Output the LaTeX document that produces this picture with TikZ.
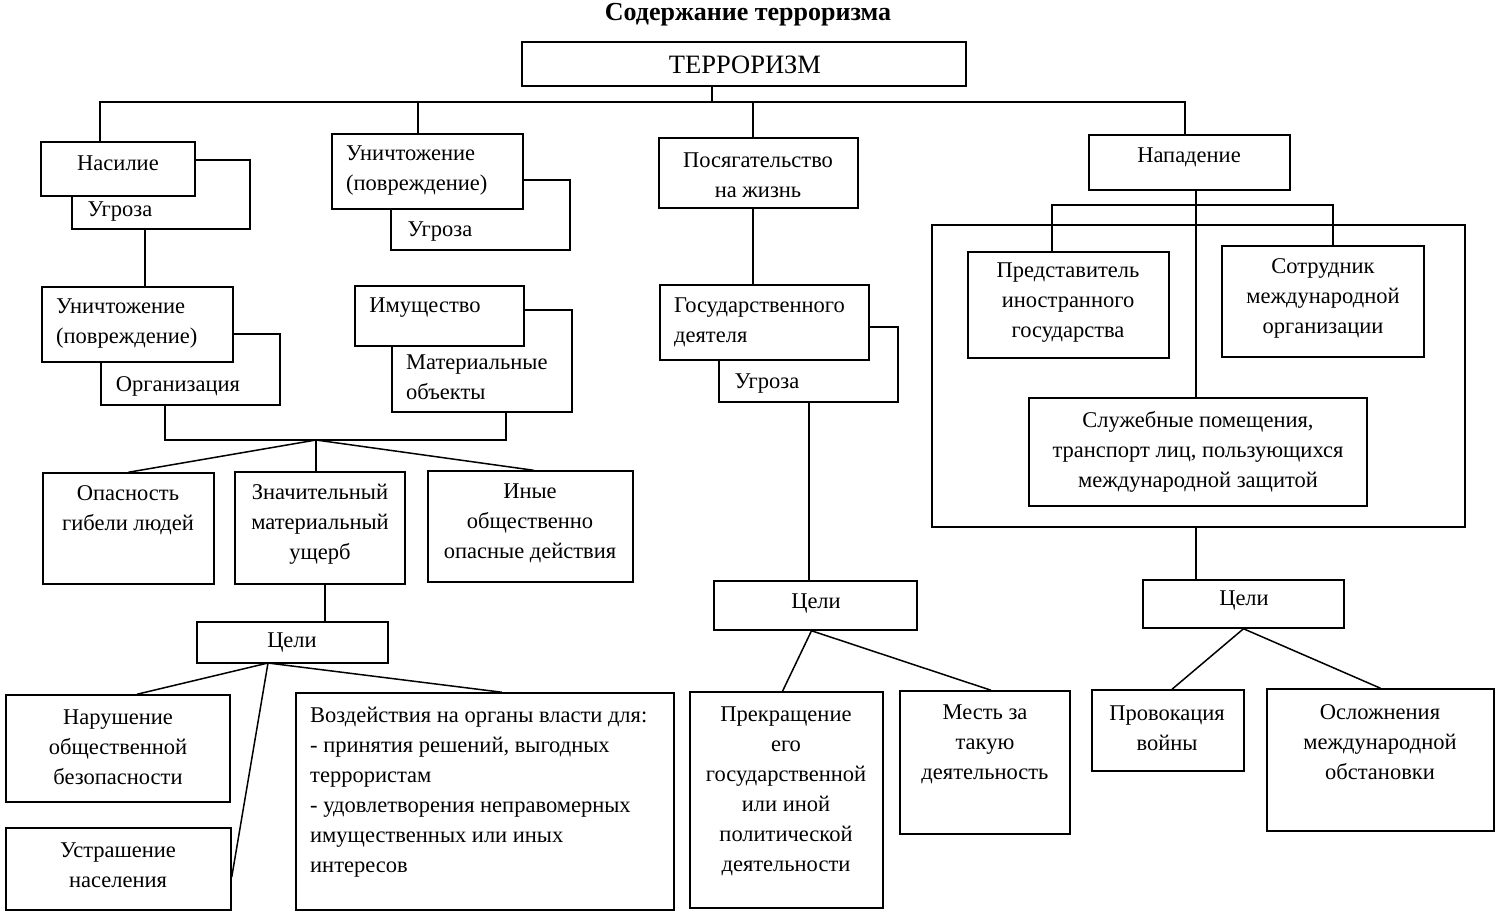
\documentclass[tikz,border=0pt]{standalone}
\usepackage{fontspec}
\setmainfont{Liberation Serif}
\usetikzlibrary{calc}
\tikzset{
  bx/.style={draw, fill=white, rectangle, inner sep=0pt, line width=1.5pt},
  txt/.style={font=\fontsize{22.5}{30}\selectfont, inner sep=0pt, align=center},
  txtl/.style={font=\fontsize{22.5}{30}\selectfont, inner sep=0pt, align=left, anchor=west},
  ln/.style={line width=1.5pt}
}
% #1 options, #2 name, #3 x1, #4 y1, #5 x2, #6 y2
\newcommand{\dbox}[6][]{%
  \node[bx,#1,minimum width={(#5-#3)*1pt},minimum height={(#6-#4)*1pt}] (#2) at ({(#3+#5)/2},{(#4+#6)/2}) {};}
\begin{document}
\begin{tikzpicture}[x=1pt,y=-1pt]
\useasboundingbox (0,0) rectangle (1500,918);
\fill[white] (0,0) rectangle (1500,918);

\node[font=\fontsize{26}{30}\selectfont\bfseries, inner sep=0pt] (title) at (748,15) {Содержание терроризма};
\dbox{terr}{522}{42}{966}{86}
\node[font=\fontsize{26.5}{30}\selectfont, inner sep=0pt] (tterr) at (745,65) {ТЕРРОРИЗМ};

% left column
\dbox{ugrA}{72}{160}{250}{229}
\dbox{nas}{41}{142}{195}{196}
\node[txt] (tnas) at (118,163) {Насилие};
\node[txt] (tugrA) at (120,212) {Угроза};

\dbox{ugrB}{391}{180}{570}{250}
\dbox{unB}{332}{134}{523}{209}
\node[txtl] (tunB) at (346,171) {Уничтожение\\(повреждение)};
\node[txt] (tugrB) at (440,232) {Угроза};

\dbox{org}{101}{334}{280}{405}
\dbox{unA}{42}{287}{233}{362}
\node[txtl] (tunA) at (56,324) {Уничтожение\\(повреждение)};
\node[txt] (torg) at (178,386) {Организация};

\dbox{mat}{392}{310}{572}{412}
\dbox{imu}{355}{286}{524}{346}
\node[txt] (timu) at (425,308) {Имущество};
\node[txtl] (tmat) at (406,377) {Материальные\\объекты};

\dbox{opas}{43}{473}{214}{584}
\node[txt] (topas) at (128,510) {Опасность\\гибели людей};
\dbox{znach}{235}{472}{405}{584}
\node[txt] (tznach) at (320,524) {Значительный\\материальный\\ущерб};
\dbox{inye}{428}{471}{633}{582}
\node[txt] (tinye) at (530,523) {Иные\\общественно\\опасные действия};

\dbox{celA}{197}{622}{388}{663}
\node[txt] (tcelA) at (292,643) {Цели};
\dbox{nar}{6}{695}{230}{802}
\node[txt] (tnar) at (118,747) {Нарушение\\общественной\\безопасности};
\dbox{ustr}{6}{828}{231}{910}
\node[txt] (tustr) at (118,865) {Устрашение\\населения};
\dbox{vozd}{296}{693}{674}{910}
\node[txtl] (tvozd) at (310,792) {Воздействия на органы власти для:\\- принятия решений, выгодных\\террористам\\- удовлетворения неправомерных\\имущественных или иных\\интересов};

% middle column
\dbox{posyag}{659}{138}{858}{208}
\node[txt] (tposyag) at (758,175) {Посягательство\\на жизнь};
\dbox{ugrC}{719}{327}{898}{402}
\dbox{gos}{660}{285}{869}{360}
\node[txtl] (tgos) at (674,322) {Государственного\\деятеля};
\node[txt] (tugrC) at (767,384) {Угроза};
\dbox{celB}{714}{581}{917}{630}
\node[txt] (tcelB) at (816,604) {Цели};
\dbox{prek}{690}{692}{883}{908}
\node[txt] (tprek) at (786,791) {Прекращение\\его\\государственной\\или иной\\политической\\деятельности};
\dbox{mest}{900}{691}{1070}{834}
\node[txt] (tmest) at (985,744) {Месть за\\такую\\деятельность};

% right column
\dbox{napad}{1089}{135}{1290}{190}
\node[txt] (tnapad) at (1189,157) {Нападение};
\dbox{big}{932}{225}{1465}{527}
\coordinate (bl) at (1052,205);
\coordinate (br) at (1333,205);
\dbox{pred}{968}{252}{1169}{358}
\node[txt] (tpred) at (1068,303) {Представитель\\иностранного\\государства};
\dbox{sotr}{1222}{246}{1424}{357}
\node[txt] (tsotr) at (1323,298) {Сотрудник\\международной\\организации};
\dbox{sluzh}{1029}{398}{1367}{506}
\node[txt] (tsluzh) at (1198,452) {Служебные помещения,\\транспорт лиц, пользующихся\\международной защитой};
\dbox{celC}{1143}{580}{1344}{628}
\node[txt] (tcelC) at (1244,601) {Цели};
\dbox{prov}{1092}{690}{1244}{771}
\node[txt] (tprov) at (1167,728) {Провокация\\войны};
\dbox{osl}{1267}{689}{1494}{831}
\node[txt] (tosl) at (1380,742) {Осложнения\\международной\\обстановки};

% connectors
\coordinate (hubTop) at (712,102);
\coordinate (xa) at (100,102);
\coordinate (xb) at (418,102);
\coordinate (xc) at (753,102);
\coordinate (xd) at (1185,102);
\draw[ln] (terr.south -| hubTop) -- (hubTop);
\draw[ln] (nas.north -| xa) -- (xa) -- (xd) -- (napad.north -| xd);
\draw[ln] (xb) -- (unB.north -| xb);
\draw[ln] (xc) -- (posyag.north -| xc);

\coordinate (xe) at (145,0);
\draw[ln] (ugrA.south -| xe) -- (unA.north -| xe);
\coordinate (hubB) at (316,440);
\coordinate (xf) at (165,0);
\coordinate (xg) at (506,0);
\draw[ln] (org.south -| xf) |- (hubB) -| (mat.south -| xg);
\draw[ln] (hubB) -- (opas.north);
\draw[ln] (hubB) -- (znach.north -| hubB);
\draw[ln] (hubB) -- ([xshift=3pt]inye.north);
\coordinate (xh) at (325,0);
\draw[ln] (znach.south -| xh) -- (celA.north -| xh);
\coordinate (hubC) at (268,663);
\draw[ln] (hubC) -- ([xshift=19pt]nar.north);
\draw[ln] (hubC) -- ([yshift=-8pt]ustr.east);
\draw[ln] (hubC) -- ([xshift=17pt]vozd.north);

\coordinate (xi) at (753,0);
\draw[ln] (posyag.south -| xi) -- (gos.north -| xi);
\coordinate (xj) at (809,0);
\draw[ln] (ugrC.south -| xj) -- (celB.north -| xj);
\draw[ln] ([xshift=-4pt]celB.south) -- ([xshift=-4pt]prek.north);
\draw[ln] ([xshift=-4pt]celB.south) -- ([xshift=6pt]mest.north);

\coordinate (xk) at (1196,0);
\draw[ln] (napad.south -| xk) -- (sluzh.north -| xk);
\draw[ln] (big.south -| xk) -- (celC.north -| xk);
\draw[ln] (pred.north -| bl) -- (bl) -- (br) -- (sotr.north -| br);
\draw[ln] (celC.south) -- ([xshift=4pt]prov.north);
\draw[ln] (celC.south) -- (osl.north);
\end{tikzpicture}
\end{document}
